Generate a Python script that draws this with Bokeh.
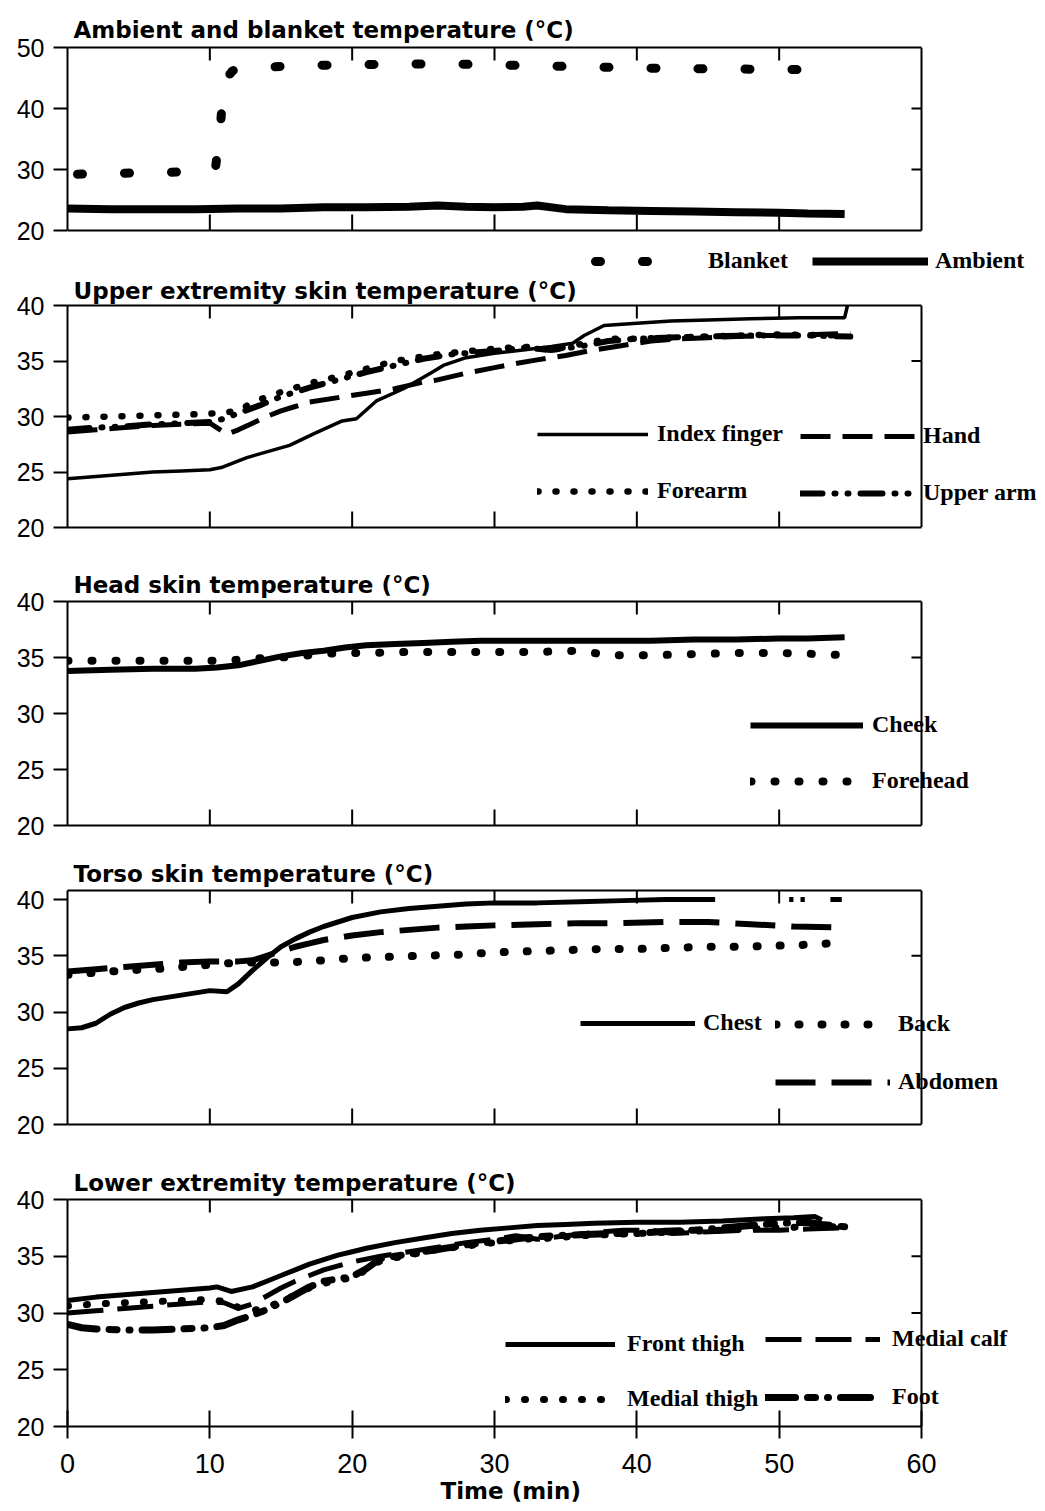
from bokeh.plotting import figure
from bokeh.layouts import column
from bokeh.models import Range1d, LinearAxis, FixedTicker, Legend, LegendItem, Title
from bokeh.embed import file_html
from bokeh.resources import INLINE

nan = float("nan")

# ---------------- data (time in min, temperature in °C) ----------------
x_ticks = [0, 10, 20, 30, 40, 50, 60]
inner_x_ticks = [10, 20, 30, 40, 50]

# Panel 1: ambient and blanket
blanket_t = [0, 2, 4, 6, 8, 10, 10.4, 10.7, 11.0, 11.6, 13, 15, 17, 19, 21, 23, 25, 27, 29, 31, 33, 35,
             37, 39, 41, 43, 45, 47, 49, 51, 52.6]
blanket_v = [29.2, 29.3, 29.4, 29.5, 29.6, 29.8, 30.3, 36.0, 44.5, 46.2, 46.6, 46.9, 47.1, 47.1, 47.2, 47.3,
             47.3, 47.3, 47.2, 47.1, 47.0, 46.9, 46.8, 46.7, 46.6, 46.6, 46.5, 46.5, 46.4, 46.4, 46.3]
ambient_t = [0, 3, 6, 9, 12, 15, 18, 21, 24, 26, 28, 30, 32, 33, 35, 38, 41, 44, 47, 50, 52, 54.6]
ambient_v = [23.6, 23.5, 23.5, 23.5, 23.6, 23.6, 23.8, 23.8, 23.9, 24.1, 23.9, 23.8, 23.9, 24.1, 23.5,
             23.3, 23.2, 23.1, 23.0, 22.9, 22.8, 22.7]

# Panel 2: upper extremity
index_t = [0, 2, 4, 6, 8, 10, 10.8, 12.6, 15.6, 17.4, 19.3, 20.3, 21.7, 23.6, 25.5, 26.4, 28, 30, 32, 34,
           35.5, 36.3, 37.7, 40, 42.4, 45, 48, 51.4, 54.6, 54.8]
index_v = [24.4, 24.6, 24.8, 25.0, 25.1, 25.2, 25.4, 26.3, 27.4, 28.5, 29.6, 29.8, 31.4, 32.5, 33.9, 34.6,
           35.3, 35.7, 36.0, 36.3, 36.6, 37.3, 38.2, 38.4, 38.6, 38.7, 38.8, 38.9, 38.9, 40.0]
hand_t = [0, 2, 4, 6, 8, 10, 11.2, 12, 13, 14, 15, 16, 17, 19, 21, 23, 24, 25, 26, 28, 30, 31.6, 33, 35,
          37, 39, 41, 43, 45, 47, 49, 51, 53, 55]
hand_v = [28.6, 28.8, 29.0, 29.2, 29.3, 29.4, 28.4, 28.8, 29.4, 30.0, 30.5, 30.9, 31.3, 31.7, 32.1, 32.5,
          32.8, 33.1, 33.3, 33.9, 34.4, 34.8, 35.1, 35.5, 36.0, 36.4, 36.8, 37.0, 37.1, 37.2, 37.3, 37.3,
          37.4, 37.5]
forearm_t = [0, 3, 6, 9, 10.5, 12, 13, 15, 17, 19, 21, 23, 26, 29, 32, 34, 36, 38, 40, 45, 50, 54.5]
forearm_v = [29.9, 30.0, 30.1, 30.2, 30.3, 30.5, 31.3, 32.2, 33.0, 33.6, 34.3, 35.0, 35.6, 36.0, 36.3,
             36.0, 36.5, 37.0, 37.0, 37.2, 37.4, 37.3]
upperarm_t = [0, 2, 4, 6, 8, 10, 11, 12, 13.5, 15, 17, 19, 21, 23, 25, 27, 30, 32, 34, 36, 38, 40, 44,
              48, 52, 55]
upperarm_v = [28.8, 29.0, 29.1, 29.3, 29.4, 29.5, 29.8, 30.3, 31.0, 31.8, 32.6, 33.3, 34.0, 34.6, 35.2,
              35.6, 35.9, 36.2, 36.0, 36.3, 36.8, 37.0, 37.2, 37.3, 37.3, 37.2]

# Panel 3: head
cheek_t = [0, 3, 6, 9, 10.5, 12, 13.5, 15, 16.5, 18, 19.5, 21, 23, 25, 27, 29, 32, 35, 38, 41, 44, 47,
           50, 52, 54.6]
cheek_v = [33.8, 33.9, 34.0, 34.0, 34.1, 34.3, 34.7, 35.1, 35.4, 35.6, 35.9, 36.1, 36.2, 36.3, 36.4,
           36.5, 36.5, 36.5, 36.5, 36.5, 36.6, 36.6, 36.7, 36.7, 36.8]
forehead_t = [0, 3, 6, 9, 11, 13, 15, 17, 19, 21, 24, 27, 30, 33, 36, 37, 38, 41, 44, 47, 50, 53, 54.5]
forehead_v = [34.7, 34.7, 34.7, 34.7, 34.7, 34.9, 35.0, 35.2, 35.4, 35.4, 35.5, 35.5, 35.5, 35.5, 35.6,
              35.4, 35.2, 35.2, 35.3, 35.4, 35.4, 35.3, 35.2]

# Panel 4: torso
chest_t = [0, 1, 2, 3, 4, 5, 6, 8, 10, 11.2, 12, 13, 14, 15, 16, 17, 18, 20, 22, 24, 26, 28, 30, 33,
           36, 39, 42, 45.5, nan, 50.7, 51.0, nan, 51.5, 51.8, nan, 53.6, 54.4]
chest_v = [28.5, 28.6, 29.0, 29.8, 30.4, 30.8, 31.1, 31.5, 31.9, 31.8, 32.5, 33.7, 34.8, 35.8, 36.5,
           37.1, 37.6, 38.4, 38.9, 39.2, 39.4, 39.6, 39.7, 39.7, 39.8, 39.9, 40.0, 40.0, nan, 40.0, 40.0,
           nan, 40.0, 40.0, nan, 40.0, 40.0]
back_t = [0, 2, 4, 6, 8, 10, 12, 14, 15.5, 18, 20, 22.5, 25, 27.5, 30, 32.5, 35, 37.5, 40, 42.5, 45,
          47.5, 50, 52.5, 54.6]
back_v = [33.3, 33.5, 33.7, 33.8, 34.0, 34.2, 34.4, 34.4, 34.4, 34.6, 34.8, 34.9, 35.0, 35.1, 35.3, 35.4,
          35.5, 35.6, 35.6, 35.7, 35.8, 35.8, 35.9, 36.0, 36.2]
abdomen_t = [0, 2, 4, 6, 8, 10, 12, 13, 14, 15, 16, 17, 18, 20, 22, 24, 26, 28, 30, 33, 36, 39, 42, 45,
             48, 51, 54.6]
abdomen_v = [33.6, 33.8, 34.0, 34.2, 34.4, 34.5, 34.5, 34.6, 35.0, 35.4, 35.8, 36.1, 36.4, 36.8, 37.1,
             37.3, 37.5, 37.6, 37.7, 37.8, 37.9, 37.9, 38.0, 38.0, 37.8, 37.6, 37.5]

# Panel 5: lower extremity
fthigh_t = [0, 2, 4, 6, 8, 10, 10.5, 11.5, 13, 14, 15, 16, 17, 18, 19, 20, 21, 23, 25, 27, 29, 31, 33,
            35, 37, 40, 43, 46, 49, 51, 52.5, 53]
fthigh_v = [31.1, 31.4, 31.6, 31.8, 32.0, 32.2, 32.3, 31.9, 32.3, 32.8, 33.3, 33.8, 34.3, 34.7, 35.1,
            35.4, 35.7, 36.2, 36.6, 37.0, 37.3, 37.5, 37.7, 37.8, 37.9, 38.0, 38.0, 38.1, 38.3, 38.4,
            38.5, 38.2]
calf_t = [0, 2, 4, 6, 8, 10, 11, 12, 13, 14, 15, 16, 17, 18, 20, 22, 24, 26, 28, 30, 31.5, 33, 35, 37,
          39, 41, 42.5, 44, 46, 48, 50, 52, 54.6]
calf_v = [30.0, 30.2, 30.4, 30.6, 30.8, 31.0, 30.9, 30.4, 30.8, 31.5, 32.2, 32.8, 33.3, 33.8, 34.5,
          35.0, 35.4, 35.8, 36.2, 36.5, 36.8, 36.5, 36.8, 37.1, 37.3, 37.3, 37.0, 37.1, 37.2, 37.3, 37.3,
          37.4, 37.5]
mthigh_t = [0, 2, 4, 6, 8, 10, 11, 12, 13, 14, 15, 16, 17, 18, 19, 20, 21, 22, 24, 26, 28, 30, 32, 34,
            36, 38, 40, 42, 44, 46, 48, 50, 52, 54.6]
mthigh_v = [30.6, 30.8, 30.9, 31.0, 31.1, 31.2, 31.0, 30.5, 30.2, 30.5, 31.0, 31.6, 32.2, 32.6, 32.9,
            33.1, 33.8, 34.6, 35.1, 35.6, 35.9, 36.2, 36.5, 36.6, 36.8, 36.9, 37.0, 37.1, 37.2, 37.3,
            37.4, 37.5, 37.6, 37.6]
foot_t = [0, 1, 2, 4, 6, 8, 10, 11, 12, 13, 14, 15, 16, 17, 18, 19, 20, 21, 22, 24, 26, 28, 30, 32, 34,
          36, 38, 40, 42, 44, 46, 48, 50, 52, 53, 54.6]
foot_v = [29.0, 28.7, 28.6, 28.5, 28.5, 28.6, 28.7, 28.9, 29.4, 29.8, 30.3, 30.9, 31.6, 32.3, 32.8,
          33.0, 33.2, 33.9, 34.8, 35.2, 35.6, 36.0, 36.3, 36.6, 36.8, 36.9, 37.0, 37.0, 37.2, 37.3,
          37.5, 37.7, 37.9, 38.0, 37.8, 37.6]

titles = ["Ambient and blanket temperature (°C)",
          "Upper extremity skin temperature (°C)",
          "Head skin temperature (°C)",
          "Torso skin temperature (°C)",
          "Lower extremity temperature (°C)"]

# ---------------- layout / style ----------------
W = 1045
LEFT = 67
FRAME_W = 854          # pixels for 0..60 min
X_MAX = 60
X_END = X_MAX * (W - LEFT) / FRAME_W   # frame runs to the canvas edge so legends are not clipped
Y_MIN = 20
SANS = "Liberation Sans"
TITLE_FONT = "DejaVu Sans"
SERIF = "Liberation Serif"
K = "black"


def make_panel(title, ymax, yticks, rticks, height, top, frame_h, bottom, title_standoff,
               last=False, extra_below=0):
    """frame_h: pixel height of the 20..ymax box; extra_below: frame pixels kept below 20."""
    px_y = (ymax - Y_MIN) / frame_h
    ylow = Y_MIN - extra_below * px_y
    p = figure(width=W, height=height, output_backend="svg", toolbar_location=None,
               x_range=Range1d(0, X_END), y_range=Range1d(ylow, ymax),
               x_axis_type=None, y_axis_type=None,
               min_border_left=LEFT, min_border_right=0,
               min_border_top=top, min_border_bottom=bottom)
    p.outline_line_color = None

    p.title.text = title
    p.title.align = "left"
    p.title.offset = 6
    p.title.standoff = title_standoff
    p.title.text_font = TITLE_FONT
    p.title.text_font_size = "23px"
    p.title.text_font_style = "bold"
    p.title.text_color = K

    left = LinearAxis(ticker=FixedTicker(ticks=yticks), bounds=(Y_MIN, ymax),
                      major_tick_out=14, major_tick_in=0,
                      major_tick_line_width=2, axis_line_width=2, minor_tick_line_color=None,
                      major_label_standoff=9, major_label_text_font=SANS,
                      major_label_text_font_size="25px", major_label_text_color=K)
    p.add_layout(left, "left")

    if last:
        bax = LinearAxis(ticker=FixedTicker(ticks=x_ticks), bounds=(0, X_MAX),
                         major_tick_in=16, major_tick_out=12,
                         major_tick_line_width=2, axis_line_width=2, minor_tick_line_color=None,
                         major_label_standoff=15, major_label_text_font=SANS,
                         major_label_text_font_size="27px", major_label_text_color=K)
        p.add_layout(bax, "below")
    elif extra_below == 0:
        bax = LinearAxis(ticker=FixedTicker(ticks=[]), bounds=(0, X_MAX), axis_line_width=2,
                         major_tick_in=0, major_tick_out=0, minor_tick_line_color=None)
        p.add_layout(bax, "below")
    else:
        # bottom border of the box lies inside the frame
        p.segment(x0=[0], y0=[Y_MIN], x1=[X_MAX], y1=[Y_MIN], line_color=K, line_width=2)

    tax = LinearAxis(ticker=FixedTicker(ticks=[]), bounds=(0, X_MAX), axis_line_width=2,
                     major_tick_in=0, major_tick_out=0, minor_tick_line_color=None)
    p.add_layout(tax, "above")

    # right border of the plot box
    p.segment(x0=[X_MAX], y0=[Y_MIN], x1=[X_MAX], y1=[ymax], line_color=K, line_width=2)

    # inward tick marks on top, bottom and right borders
    px_x = X_MAX / FRAME_W
    n = len(inner_x_ticks)
    p.segment(x0=inner_x_ticks, y0=[ymax] * n, x1=inner_x_ticks, y1=[ymax - 13 * px_y] * n,
              line_color=K, line_width=2)
    if not last:
        p.segment(x0=inner_x_ticks, y0=[Y_MIN] * n, x1=inner_x_ticks, y1=[Y_MIN + 16 * px_y] * n,
                  line_color=K, line_width=2)
    m = len(rticks)
    p.segment(x0=[X_MAX] * m, y0=rticks, x1=[X_MAX - 10 * px_x] * m, y1=rticks,
              line_color=K, line_width=2)
    return p


def make_legend(items, glyph_width, standoff, spacing=30, location=(0, 0), orientation="vertical"):
    return Legend(items=[LegendItem(label=lab, renderers=[r]) for lab, r in items],
                  location=location, orientation=orientation,
                  glyph_width=glyph_width, glyph_height=20, label_height=20,
                  label_standoff=standoff, spacing=spacing, padding=0, margin=0,
                  border_line_alpha=0, background_fill_alpha=0,
                  label_text_font=SERIF, label_text_font_size="24px",
                  label_text_font_style="bold", label_text_color=K)


# ---- panel 1 (its legend sits under the box, so the frame reaches the canvas bottom)
p1 = make_panel(titles[0], 50, [20, 30, 40, 50], [30, 40], 274, 47, 183, 0, 10, extra_below=44)
r_bl = p1.line(blanket_t, blanket_v, line_color=K, line_width=9, line_dash="5 42",
               line_dash_offset=37, line_cap="round")
r_am = p1.line(ambient_t, ambient_v, line_color=K, line_width=8)
p1.add_layout(make_legend([("Blanket", r_bl)], 95, 28, 0, (518, 0)))
p1.add_layout(make_legend([("Ambient", r_am)], 116, 7, 0, (745, 0)))

# ---- panel 2
p2 = make_panel(titles[1], 40, [20, 25, 30, 35, 40], [35], 274, 31, 222, 21, 3)
r_if = p2.line(index_t, index_v, line_color=K, line_width=3.5)
r_ha = p2.line(hand_t, hand_v, line_color=K, line_width=5, line_dash="30 12")
r_fa = p2.line(forearm_t, forearm_v, line_color=K, line_width=6.5, line_dash="1 17", line_cap="round")
r_ua = p2.line(upperarm_t, upperarm_v, line_color=K, line_width=6, line_dash="22 12 1 12 1 12",
               line_cap="round")
p2.add_layout(make_legend([("Index finger", r_if), ("Forearm", r_fa)], 111, 9, 30, (470, 23)))
p2.add_layout(make_legend([("Hand", r_ha), ("Upper arm", r_ua)], 115, 8, 30, (733, 21)))

# ---- panel 3
p3 = make_panel(titles[2], 40, [20, 25, 30, 35, 40], [35], 297, 53, 224, 20, 8)
r_ch = p3.line(cheek_t, cheek_v, line_color=K, line_width=6)
r_fh = p3.line(forehead_t, forehead_v, line_color=K, line_width=8, line_dash="1 23", line_cap="round")
p3.add_layout(make_legend([("Cheek", r_ch), ("Forehead", r_fh)], 113, 9, 29, (683, 31)))

# ---- panel 4
p4 = make_panel(titles[3], 40.8, [20, 25, 30, 35, 40], [35], 300, 45, 234, 21, 7)
r_cs = p4.line(chest_t, chest_v, line_color=K, line_width=5)
r_bk = p4.line(back_t, back_v, line_color=K, line_width=8, line_dash="1 22", line_cap="round")
r_ab = p4.line(abdomen_t, abdomen_v, line_color=K, line_width=6, line_dash="40 16")
p4.add_layout(make_legend([("Chest", r_cs)], 115, 8, 30, (513, 88)))
p4.add_layout(make_legend([("Back", r_bk), ("Abdomen", r_ab)], 115, 8, 31, (708, 29)))

# ---- panel 5
p5 = make_panel(titles[4], 40, [20, 25, 30, 35, 40], [30, 35], 366, 54, 227, 85, 7, last=True)
r_ft = p5.line(fthigh_t, fthigh_v, line_color=K, line_width=5)
r_mc = p5.line(calf_t, calf_v, line_color=K, line_width=5, line_dash="36 14")
r_mt = p5.line(mthigh_t, mthigh_v, line_color=K, line_width=7, line_dash="1 18", line_cap="round")
r_fo = p5.line(foot_t, foot_v, line_color=K, line_width=7, line_dash="30 12 8 12 1 12",
               line_cap="round")
p5.add_layout(make_legend([("Front thigh", r_ft), ("Medial thigh", r_mt)], 110, 12, 28, (438, 14)))
p5.add_layout(make_legend([("Medial calf", r_mc), ("Foot", r_fo)], 115, 12, 31, (698, 16)))
p5.add_layout(Title(text="Time (min)", align="left", offset=373, standoff=0,
                    text_font=TITLE_FONT, text_font_size="23px", text_font_style="bold",
                    text_color=K), "below")

layout = column(p1, p2, p3, p4, p5, spacing=0)

with open("out.html", "w") as f:
    f.write(file_html(layout, INLINE))
